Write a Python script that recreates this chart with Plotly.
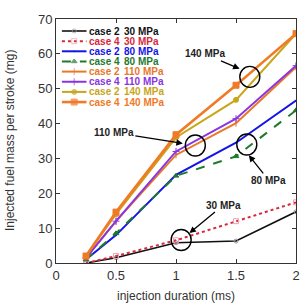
import plotly.graph_objects as go

# ---------------- data ----------------
duration = [0.25, 0.5, 1.0, 1.5, 2.0]

c2_30 = [0.0, 1.5, 5.8, 6.3, 14.7]
c4_30 = [0.0, 2.0, 6.5, 12.0, 17.4]
c2_80 = [1.0, 8.0, 25.3, 34.5, 46.6]
c4_80 = [1.0, 8.5, 25.0, 30.6, 43.8]
c2_110 = [1.5, 12.0, 31.0, 40.1, 56.2]
c4_110 = [1.5, 12.0, 32.0, 41.4, 56.6]
c2_140 = [2.0, 14.0, 36.0, 46.8, 65.8]
c4_140 = [2.0, 14.6, 36.8, 51.0, 65.8]

series_names = ["case 2", "case 4", "case 2", "case 4", "case 2", "case 4", "case 2", "case 4"]
series_press = ["30 MPa", "30 MPa", "80 MPa", "80 MPa", "110 MPa", "110 MPa", "140 MPa", "140 MPa"]
series_vals = [c2_30, c4_30, c2_80, c4_80, c2_110, c4_110, c2_140, c4_140]

x_ticks = [0, 0.5, 1, 1.5, 2]
x_tick_text = ["0", "0.5", "1", "1.5", "2"]
y_ticks = [0, 10, 20, 30, 40, 50, 60, 70]

# callouts: label, circle centre (data), arrow tip (data), text offset (px)
call_labels = ["140 MPa", "110 MPa", "80 MPa", "30 MPa"]
circ_x = [1.615, 1.161, 1.59, 1.043]
circ_y = [53.4, 33.7, 34.0, 6.6]
tip_x = [1.53, 1.057, 1.607, 1.112]
tip_y = [55.7, 34.3, 30.9, 8.6]
off_x = [-35, -69, 20, 34]
off_y = [-15, -11, 25, -28]

# ---------------- styles ----------------
colors = ["#111111", "#d8283c", "#1414e6", "#1f7a2e", "#e8782a", "#8a35e0", "#c9a51a", "#f07a26"]
dashes = ["solid", "dot", "solid", "dash", "solid", "solid", "solid", "solid"]
widths = [1.6, 2, 2, 2, 2, 2, 2, 2.6]
symbols = ["circle-open", "square-open", "circle", "triangle-up", "line-ns-open", "cross-thin-open", "circle", "square"]
msizes = [4, 5, 1, 5, 5, 5, 5, 6]
mcolors = ["#999999", "#f0a0a8", "#1414e6", "#1f7a2e", "#e8782a", "#8a35e0", "#c9a51a", "#f07a26"]

FONT = "Arial, Liberation Sans, sans-serif"
W, H = 304, 303
L, R, T, B = 56, 4, 19, 40

fig = go.Figure()

for i, vals in enumerate(series_vals):
    fig.add_trace(go.Scatter(
        x=duration, y=vals, mode="lines+markers",
        line=dict(color=colors[i], width=widths[i], dash=dashes[i]),
        marker=dict(symbol=symbols[i], size=msizes[i], color=mcolors[i],
                    line=dict(color=mcolors[i], width=1)),
        showlegend=False, hoverinfo="skip"))

# ---- manual compact legend on an overlay pixel axis ----
row_y0, row_dy = 31, 10.15
lx0, lx1, lxm = 62, 87, 74.5
for i in range(len(series_vals)):
    yy = row_y0 + row_dy * i
    fig.add_trace(go.Scatter(
        x=[lx0, lxm, lx1], y=[yy, yy, yy], xaxis="x2", yaxis="y2",
        mode="lines+markers",
        line=dict(color=colors[i], width=widths[i], dash=dashes[i]),
        marker=dict(symbol=symbols[i], size=[0, msizes[i], 0], color=mcolors[i],
                    line=dict(color=mcolors[i], width=1)),
        showlegend=False, hoverinfo="skip"))
    fig.add_annotation(x=88, y=yy, xref="x2", yref="y2", text="<b>%s</b>" % series_names[i],
                       showarrow=False, xanchor="left", yanchor="middle",
                       font=dict(family=FONT, size=10, color=colors[i]))
    fig.add_annotation(x=123, y=yy, xref="x2", yref="y2", text="<b>%s</b>" % series_press[i],
                       showarrow=False, xanchor="left", yanchor="middle",
                       font=dict(family=FONT, size=10, color=colors[i]))

# ---- callouts ----
for i, lab in enumerate(call_labels):
    fig.add_shape(type="circle", xref="x", yref="y", xsizemode="pixel", ysizemode="pixel",
                  xanchor=circ_x[i], yanchor=circ_y[i], x0=-10, x1=10, y0=-10.5, y1=10.5,
                  line=dict(color="black", width=1.4))
    fig.add_annotation(x=tip_x[i], y=tip_y[i], xref="x", yref="y", ax=off_x[i], ay=off_y[i],
                       text="<b>%s</b>" % lab, showarrow=True, arrowhead=2, arrowsize=1,
                       arrowwidth=1.3, arrowcolor="black", standoff=0,
                       font=dict(family=FONT, size=10, color="#222"))

# axis titles
fig.add_annotation(x=0.5, y=0, xref="paper", yref="paper", yshift=-33,
                   text="injection duration (ms)", showarrow=False, yanchor="middle",
                   font=dict(family=FONT, size=12, color="#333"))
fig.add_annotation(x=0, y=0.5, xref="paper", yref="paper", xshift=-46,
                   text="Injected fuel mass per stroke (mg)", showarrow=False, textangle=-90,
                   xanchor="center", font=dict(family=FONT, size=12, color="#333"))

axis_common = dict(showline=True, linecolor="#333", linewidth=1, mirror="ticks",
                   ticks="inside", ticklen=4, tickcolor="#333", showgrid=False, zeroline=False,
                   tickfont=dict(family=FONT, size=13, color="#333"))

fig.update_layout(
    width=W, height=H, margin=dict(l=L, r=R, t=T, b=B),
    paper_bgcolor="white", plot_bgcolor="white", showlegend=False,
    xaxis=dict(range=[0, 2], tickvals=x_ticks, ticktext=x_tick_text, **axis_common),
    yaxis=dict(range=[0, 70], tickvals=y_ticks, **axis_common),
    xaxis2=dict(range=[L, W - R], overlaying="x", visible=False, fixedrange=True),
    yaxis2=dict(range=[H - B, T], overlaying="y", visible=False, fixedrange=True),
)

fig.write_html("out.html")
